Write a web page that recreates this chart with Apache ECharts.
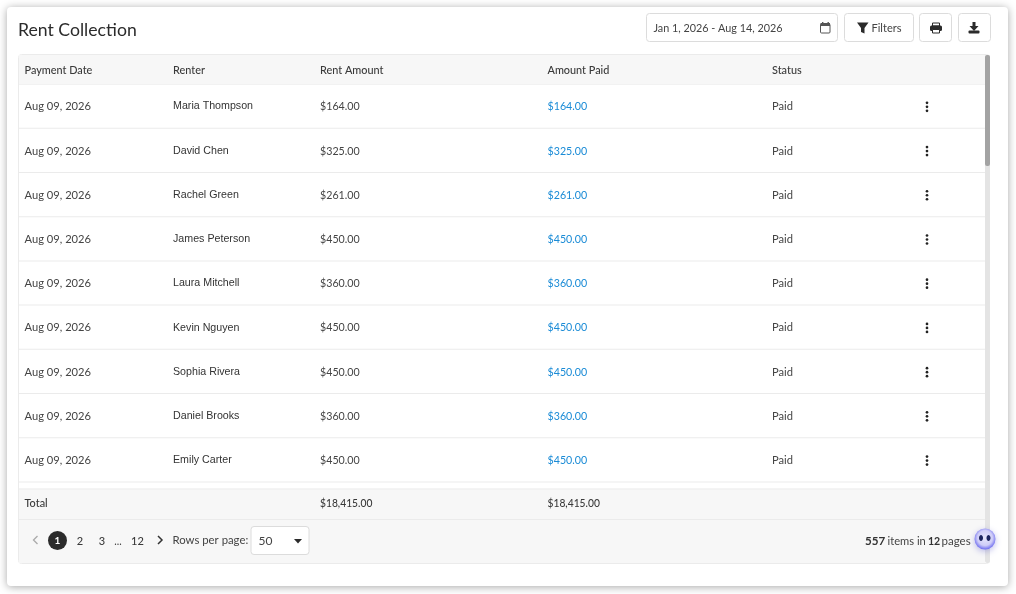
<!DOCTYPE html>
<html><head><meta charset="utf-8">
<script src="https://cdn.jsdelivr.net/npm/echarts@6/dist/echarts.min.js"></script>
<style>html,body{margin:0;padding:0;background:#fff}#c{width:1016px;height:594px}</style></head>
<body><div id="c"></div>
<script>
const title = 'Rent Collection';
const dateRange = 'Jan 1, 2026 - Aug 14, 2026';
const headers = ['Payment Date','Renter','Rent Amount','Amount Paid','Status'];
const paymentDates = ['Aug 09, 2026','Aug 09, 2026','Aug 09, 2026','Aug 09, 2026','Aug 09, 2026','Aug 09, 2026','Aug 09, 2026','Aug 09, 2026','Aug 09, 2026'];
const renters = ['Maria Thompson','David Chen','Rachel Green','James Peterson','Laura Mitchell','Kevin Nguyen','Sophia Rivera','Daniel Brooks','Emily Carter'];
const rentAmounts = [164,325,261,450,360,450,450,360,450];
const amountsPaid = [164,325,261,450,360,450,450,360,450];
const statuses = ['Paid','Paid','Paid','Paid','Paid','Paid','Paid','Paid','Paid'];
const totalRent = 18415, totalPaid = 18415;
const pages = ['2','3','...','12'];
const rowsPerPage = '50';
const itemsCount = '557', pagesCount = '12';

const F = 'Lato';
const TXT = '#444444';
const colX = [24.5,173,320,547.5,772];
const usd = v => '$' + v.toLocaleString('en-US',{minimumFractionDigits:2,maximumFractionDigits:2});

function rect(x,y,w,h,fill,stroke,r,extra){return Object.assign({type:'rect',shape:{x,y,width:w,height:h,r:r||0},style:{fill:fill||'transparent',stroke:stroke||null,lineWidth:1}},extra||{});}
function text(x,y,t,font,fill,align,sx){return {type:'text',x,y,scaleX:sx||1,style:{text:t,font:font,fill:fill||TXT,align:align||'left',verticalAlign:'middle'}};}
function btn(x,y,w,h){return rect(x+.5,y+.5,w-1,h-1,'#fff','#dcdcdc',3);}

const g = [
  rect(7,7,1001,579,'#fff',null,4,{style:{fill:'#fff',shadowBlur:9,shadowColor:'rgba(0,0,0,0.35)',shadowOffsetY:1}}),
  text(18,29.7,title,'18px '+F,'#2b2b2b','left',.98),
  btn(646,13,192,29),
  text(653.5,28.4,dateRange,'12px '+F,TXT,'left',.9),
  rect(820.5,24,9.5,9,'transparent','#555',1),rect(820.5,23,9.5,3,'#555'),rect(822,22,1.4,2,'#555'),rect(827.5,22,1.4,2,'#555'),
  btn(844,13,70,29),
  {type:'polygon',shape:{points:[[857,22.5],[868.5,22.5],[864.5,28],[864.5,33.5],[861,32],[861,28]]},style:{fill:'#2b2b2b'}},
  text(871.5,28.4,'Filters','12px '+F,TXT,'left',.92),
  btn(919,13,33,29),
  rect(932.5,23,7,3,'transparent','#2b2b2b',0),rect(930,25.5,12,5.5,'#2b2b2b',null,1.5),rect(932.5,29.5,7,3.5,'#fff','#2b2b2b'),
  btn(958,13,33,29),
  {type:'polygon',shape:{points:[[972.5,22],[975.5,22],[975.5,26],[978.5,26],[974,31],[969.5,26],[972.5,26]]},style:{fill:'#2b2b2b'}},
  rect(968.5,30.5,11,3,'#2b2b2b',null,1),
  // table panel
  rect(18.5,54.5,971,509,'#fff','#ebebeb',3),
  rect(19,55,966,29,'#f7f7f7'),
  rect(19,84,966,.8,'#eeeeee'),
  rect(19,488.5,966,30.5,'#f7f7f7'),
  rect(19,488.5,966,1,'#eeeeee'),
  rect(19,519,966,44,'#f7f7f7'),
  rect(19,519,966,1,'#ebebeb'),
  rect(985,55,5,508,'#e4e4e4',null,2),
  rect(985,55,5,111,'#a3a3a3',null,2),
  ...headers.map((h,i)=>text(colX[i],69.8,h,'500 12px '+F,'#3a3a3a','left',.905)),
  text(colX[0],503.4,'Total','500 12px '+F,'#3a3a3a','left',.905),
  text(colX[2],503.4,usd(totalRent),'500 12px '+F,'#3a3a3a','left',.855),
  text(colX[3],503.4,usd(totalPaid),'500 12px '+F,'#3a3a3a','left',.855),
  // pagination
  {type:'polyline',shape:{points:[[37.5,536],[33.5,540],[37.5,544]]},style:{stroke:'#aaa',lineWidth:1.3,fill:null}},
  {type:'circle',shape:{cx:57.5,cy:540.5,r:9.5},style:{fill:'#2b2b2b'}},
  text(57.5,541,'1','bold 10px '+F,'#fff','center'),
  text(80,541,pages[0],'500 11px '+F,'#3a3a3a','center'),
  text(102,541,pages[1],'500 11px '+F,'#3a3a3a','center'),
  text(118,541.5,pages[2],'10.5px '+F,TXT,'center'),
  text(137.5,541,pages[3],'500 11px '+F,'#3a3a3a','center'),
  {type:'polyline',shape:{points:[[158,536],[162,540],[158,544]]},style:{stroke:'#333',lineWidth:1.5,fill:null}},
  text(172.5,540.4,'Rows per page:','12px '+F,TXT,'left',.945),
  rect(251,526.5,58,28,'#fff','#dcdcdc',3),
  text(258.5,541.4,rowsPerPage,'12px '+F,TXT),
  {type:'polygon',shape:{points:[[294,539],[302,539],[298,543.5]]},style:{fill:'#2b2b2b'}},
  text(865,541.4,itemsCount,'bold 12px '+F,'#333','left',.97),
  text(887.5,541.4,'items in','12px '+F,TXT,'left',.93),
  text(928,541.4,pagesCount,'bold 12px '+F,'#333','left',.88),
  text(941.5,541.4,'pages','12px '+F,TXT,'left',.96),
  // mascot badge
  {type:'circle',z:20,shape:{cx:985,cy:539,r:10.5},style:{fill:{type:'radial',x:.5,y:.45,r:.55,colorStops:[{offset:0,color:'#e6e6fb'},{offset:.65,color:'#cfcdf8'},{offset:1,color:'#6d6cf0'}]},shadowBlur:6,shadowColor:'rgba(70,70,200,.35)',shadowOffsetY:2}},
  {type:'ellipse',z:21,shape:{cx:981,cy:538,rx:2,ry:3},style:{fill:'#1d2560'}},
  {type:'ellipse',z:21,shape:{cx:988.5,cy:538,rx:2,ry:3},style:{fill:'#1d2560'}}
];

function renderRow(params, api){
  const i = api.value(0);
  const c = x => api.coord([x,i]);
  const bandH = api.size([0,1])[1];
  const y = c(0)[1];
  const t = (x,s,font,fill,sx) => ({type:'text',x:c(x)[0],y:y+.3,scaleX:sx,style:{text:s,font,fill,verticalAlign:'middle'}});
  const kids = [
    t(colX[0],paymentDates[i],'12px '+F,TXT,.93),
    t(colX[1],renters[i],'11px "Liberation Sans"','#333333',.97),
    t(colX[2],usd(rentAmounts[i]),'12px '+F,TXT,.89),
    t(colX[3],usd(amountsPaid[i]),'12px '+F,'#1a8bd6',.89),
    t(colX[4],statuses[i],'12px '+F,TXT,.93),
    {type:'rect',shape:{x:c(18.5)[0],y:y+bandH/2-.5,width:966.5,height:1},style:{fill:'#ebebeb'}}
  ];
  [-4,0,4].forEach(d=>kids.push({type:'circle',shape:{cx:c(927)[0],cy:y+.7+d,r:1.35},style:{fill:'#222'}}));
  return {type:'group',children:kids};
}

const chart = echarts.init(document.getElementById('c'),null,{renderer:'canvas'});
chart.setOption({
  animation:false,
  backgroundColor:'#fff',
  graphic:{elements:g},
  grid:{left:0,right:0,top:84,height:398},
  xAxis:{type:'value',min:0,max:1016,show:false},
  yAxis:{type:'category',inverse:true,show:false,data:paymentDates.map((d,i)=>String(i))},
  series:[{type:'custom',silent:true,coordinateSystem:'cartesian2d',renderItem:renderRow,clip:false,
    data:renters.map((r,i)=>[i]),encode:{y:0}}]
});
</script></body></html>
